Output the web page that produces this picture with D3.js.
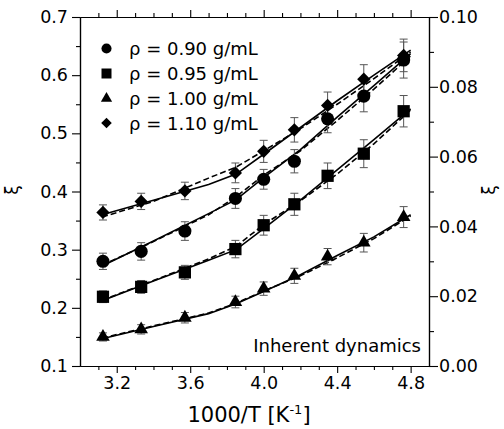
<!DOCTYPE html>
<html><head><meta charset="utf-8">
<script src="https://cdn.jsdelivr.net/npm/d3@7"></script>
<style>
html,body{margin:0;padding:0;background:#fff;}
svg text{font-family:"DejaVu Sans",Verdana,sans-serif;fill:#000;}
</style></head>
<body><svg id="c" width="504" height="429"></svg>
<script>
// ---- data ----
const xValues = [3.125, 3.333, 3.571, 3.846, 4.000, 4.167, 4.348, 4.545, 4.762];
const seriesNames = ["ρ = 0.90 g/mL", "ρ = 0.95 g/mL", "ρ = 1.00 g/mL", "ρ = 1.10 g/mL"];
const xi090 = [0.280, 0.297, 0.332, 0.388, 0.421, 0.452, 0.525, 0.564, 0.626];
const xi095 = [0.219, 0.236, 0.261, 0.301, 0.342, 0.378, 0.427, 0.465, 0.538];
const xi100 = [0.150, 0.163, 0.183, 0.210, 0.233, 0.255, 0.288, 0.312, 0.356];
const xi110 = [0.364, 0.383, 0.401, 0.432, 0.469, 0.506, 0.548, 0.593, 0.634];
const err090 = [0.014, 0.015, 0.016, 0.017, 0.017, 0.020, 0.024, 0.027, 0.031];
const err095 = [0.010, 0.011, 0.012, 0.015, 0.017, 0.019, 0.022, 0.024, 0.027];
const err100 = [0.007, 0.008, 0.009, 0.010, 0.0115, 0.013, 0.014, 0.016, 0.018];
const err110 = [0.013, 0.014, 0.015, 0.017, 0.019, 0.021, 0.023, 0.025, 0.028];
// fitted curves (solid and dashed), sampled at fitX
const fitX = [3.12, 3.40, 3.70, 3.85, 4.00, 4.20, 4.40, 4.60, 4.80];
const solid090 = [0.272, 0.315, 0.362, 0.386, 0.424, 0.472, 0.528, 0.582, 0.637];
const dash090  = [0.273, 0.314, 0.360, 0.391, 0.428, 0.470, 0.522, 0.576, 0.633];
const solid095 = [0.212, 0.246, 0.282, 0.300, 0.336, 0.385, 0.437, 0.489, 0.542];
const dash095  = [0.213, 0.247, 0.284, 0.306, 0.343, 0.384, 0.430, 0.482, 0.540];
const solid100 = [0.147, 0.168, 0.190, 0.207, 0.228, 0.257, 0.290, 0.322, 0.360];
const dash100  = [0.148, 0.169, 0.191, 0.208, 0.229, 0.255, 0.286, 0.319, 0.358];
const solid110 = [0.360, 0.385, 0.412, 0.430, 0.464, 0.510, 0.556, 0.600, 0.643];
const dash110  = [0.356, 0.383, 0.423, 0.442, 0.470, 0.508, 0.550, 0.594, 0.640];
const xTicks = [3.2, 3.6, 4.0, 4.4, 4.8];
const yLeftTicks = [0.1, 0.2, 0.3, 0.4, 0.5, 0.6, 0.7];
const yRightTicks = [0.00, 0.02, 0.04, 0.06, 0.08, 0.10];

// ---- layout ----
const L = 80, R = 429, T = 17, B = 366;
const svg = d3.select("#c");
const x = d3.scaleLinear().domain([3.0, 4.9]).range([L, R]);
const yL = d3.scaleLinear().domain([0.1, 0.7]).range([B, T]);
const yR = d3.scaleLinear().domain([0.0, 0.1]).range([B, T]);

const xMinor = d3.range(31, 49).map(d => d / 10).filter(v => !xTicks.some(t => Math.abs(t - v) < 1e-6));
const yLMinor = d3.range(0.15, 0.7, 0.1);
const yRMinor = [0.01, 0.03, 0.05, 0.07, 0.09];

function styleAxis(g) {
  g.selectAll(".domain").attr("stroke", "#000").attr("stroke-width", 1.2);
  g.selectAll(".tick line").attr("stroke", "#000").attr("stroke-width", 1.1);
  g.selectAll("text").attr("font-size", 17.5).attr("font-family", "DejaVu Sans");
}
// bottom
svg.append("g").attr("transform", `translate(0,${B})`)
  .call(d3.axisBottom(x).tickValues(xTicks).tickFormat(d3.format(".1f")).tickSize(7).tickSizeOuter(0).tickPadding(4))
  .call(styleAxis);
svg.append("g").attr("transform", `translate(0,${B})`)
  .call(d3.axisBottom(x).tickValues(xMinor).tickFormat("").tickSize(4).tickSizeOuter(0))
  .call(styleAxis);
// top
svg.append("g").attr("transform", `translate(0,${T})`)
  .call(d3.axisTop(x).tickValues(xTicks).tickFormat("").tickSize(7).tickSizeOuter(0))
  .call(styleAxis);
svg.append("g").attr("transform", `translate(0,${T})`)
  .call(d3.axisTop(x).tickValues(xMinor).tickFormat("").tickSize(4).tickSizeOuter(0))
  .call(styleAxis);
// left
svg.append("g").attr("transform", `translate(${L},0)`)
  .call(d3.axisLeft(yL).tickValues(yLeftTicks).tickFormat(d3.format(".1f")).tickSize(8).tickSizeOuter(0).tickPadding(4))
  .call(styleAxis);
svg.append("g").attr("transform", `translate(${L},0)`)
  .call(d3.axisLeft(yL).tickValues(yLMinor).tickFormat("").tickSize(4).tickSizeOuter(0))
  .call(styleAxis);
// right
svg.append("g").attr("transform", `translate(${R},0)`)
  .call(d3.axisRight(yR).tickValues(yRightTicks).tickFormat(d3.format(".2f")).tickSize(9).tickSizeOuter(0).tickPadding(1))
  .call(styleAxis);
svg.append("g").attr("transform", `translate(${R},0)`)
  .call(d3.axisRight(yR).tickValues(yRMinor).tickFormat("").tickSize(5).tickSizeOuter(0))
  .call(styleAxis);

// axis titles
const xt = svg.append("text").attr("x", 249).attr("y", 422).attr("text-anchor", "middle").attr("font-size", 21);
xt.append("tspan").text("1000/T [K");
xt.append("tspan").text("-1").attr("font-size", 13).attr("dy", -8);
xt.append("tspan").text("]").attr("dy", 8);
svg.append("text").attr("transform", "translate(18,190) rotate(-90)").attr("text-anchor", "middle")
  .attr("font-size", 17).text("ξ");
svg.append("text").attr("transform", "translate(495,190) rotate(-90)").attr("text-anchor", "middle")
  .attr("font-size", 17).text("ξ");

// series
const series = [
  {name: seriesNames[0], y: xi090, e: err090, s: solid090, d: dash090, sym: d3.symbolCircle, size: 135, lsize: 80, rot: 0},
  {name: seriesNames[1], y: xi095, e: err095, s: solid095, d: dash095, sym: d3.symbolSquare, size: 150, lsize: 100, rot: 0},
  {name: seriesNames[2], y: xi100, e: err100, s: solid100, d: dash100, sym: d3.symbolTriangle, size: 80, lsize: 55, rot: 0},
  {name: seriesNames[3], y: xi110, e: err110, s: solid110, d: dash110, sym: d3.symbolSquare, size: 88, lsize: 56, rot: 45},
];

const line = d3.line().x(d => x(d[0])).y(d => yL(d[1]));
series.forEach(sr => {
  svg.append("path").attr("d", line(fitX.map((v, i) => [v, sr.s[i]])))
    .attr("fill", "none").attr("stroke", "#000").attr("stroke-width", 1.6);
  svg.append("path").attr("d", line(fitX.map((v, i) => [v, sr.d[i]])))
    .attr("fill", "none").attr("stroke", "#000").attr("stroke-width", 1.6).attr("stroke-dasharray", "6,3");
});

// error bars
const cap = 4;
series.forEach(sr => {
  const g = svg.append("g").attr("stroke", "#555").attr("stroke-width", 1);
  xValues.forEach((xv, i) => {
    const cx = x(xv), y1 = yL(sr.y[i] + sr.e[i]), y2 = yL(sr.y[i] - sr.e[i]);
    g.append("line").attr("x1", cx).attr("x2", cx).attr("y1", y1).attr("y2", y2);
    g.append("line").attr("x1", cx - cap).attr("x2", cx + cap).attr("y1", y1).attr("y2", y1);
    g.append("line").attr("x1", cx - cap).attr("x2", cx + cap).attr("y1", y2).attr("y2", y2);
  });
});

// markers
series.forEach(sr => {
  const path = d3.symbol().type(sr.sym).size(sr.size)();
  xValues.forEach((xv, i) => {
    svg.append("path").attr("d", path)
      .attr("transform", `translate(${x(xv)},${yL(sr.y[i])}) rotate(${sr.rot})`)
      .attr("fill", "#000");
  });
});

// legend
const legY = [48.5, 73.5, 98.5, 123];
series.forEach((sr, i) => {
  svg.append("path").attr("d", d3.symbol().type(sr.sym).size(sr.lsize)())
    .attr("transform", `translate(106.5,${legY[i]}) rotate(${sr.rot})`).attr("fill", "#000");
  svg.append("text").attr("x", 129).attr("y", legY[i] + 6.5).attr("font-size", 18).text(sr.name);
});

svg.append("text").attr("x", 421).attr("y", 352).attr("text-anchor", "end").attr("font-size", 18)
  .text("Inherent dynamics");
</script></body></html>
